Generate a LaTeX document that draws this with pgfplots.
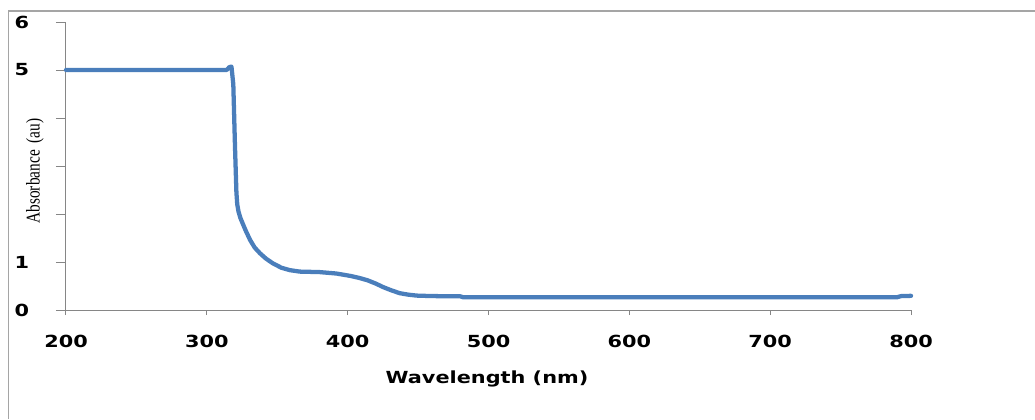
\documentclass[border=0pt]{standalone}
\usepackage{fontspec}
\usepackage{graphicx}
\usepackage{pgfplots}
\pgfplotsset{compat=1.18}
\newfontfamily\tickfont[FakeStretch=1.25]{DejaVu Sans}
\newfontfamily\labfont{Liberation Serif}
\definecolor{linec}{RGB}{74,126,187}
\definecolor{axc}{RGB}{134,134,134}
\definecolor{framec}{RGB}{165,165,165}
\begin{document}
\begin{tikzpicture}[x=0.75pt,y=0.75pt]
\path[use as bounding box] (0,0) rectangle (1035,419);
\draw[framec, line width=1.2pt] (8.3,0) -- (8.3,408) -- (1035,408);
\begin{axis}[
  at={(49.5pt,81.75pt)}, anchor=south west,
  scale only axis, width=633.75pt, height=216pt,
  xmin=200, xmax=800, ymin=0, ymax=6,
  axis x line*=bottom, axis y line*=left,
  axis line style={axc, line width=0.75pt},
  xtick={200,300,...,800}, ytick={0,1,...,6},
  yticklabels={0,1,,,,5,6},
  /pgf/number format/assume math mode=true,
  tick align=outside, major tick length=7.5pt,
  tick style={axc, line width=0.75pt},
  xtick style={/pgfplots/major tick length=3.75pt},
  x tick label style={font=\tickfont\bfseries\fontsize{12.5}{15}\selectfont, anchor=center, yshift=-16.1pt},
  y tick label style={font=\tickfont\bfseries\fontsize{12.5}{15}\selectfont, anchor=center, xshift=-25.5pt},
  clip=false,
]
\addplot[linec, line width=3.2pt, line join=round, line cap=round, no marks] coordinates {
(200,5.0) (314,5.0) (316,5.06) (317.5,5.07) (318.8,4.7) (320,3.4) (321,2.45)
(321.6,2.2) (322.5,2.05) (323.8,1.92) (325.5,1.8) (327.5,1.66) (330.7,1.46) (334,1.3) (337.8,1.18)
(342,1.07) (347,0.97) (353,0.88) (359,0.83) (366,0.80) (380,0.79) (392,0.76)
(402,0.71) (408,0.67) (414,0.62) (420,0.55) (425,0.48) (431,0.41) (437,0.35)
(443,0.32) (449,0.30) (460,0.29) (480,0.285) (482,0.265) (790,0.265) (793,0.29) (800,0.295)
};
\end{axis}
\node[font=\tickfont\bfseries\fontsize{12.5}{15}\selectfont] at (487,40) {Wavelength (nm)};
\node[rotate=90, font=\labfont\fontsize{11.5}{14}\selectfont] at (35,248) {\scalebox{1}[1.27]{Absorbance\hspace{0.45em}(au)}};
\end{tikzpicture}
\end{document}
